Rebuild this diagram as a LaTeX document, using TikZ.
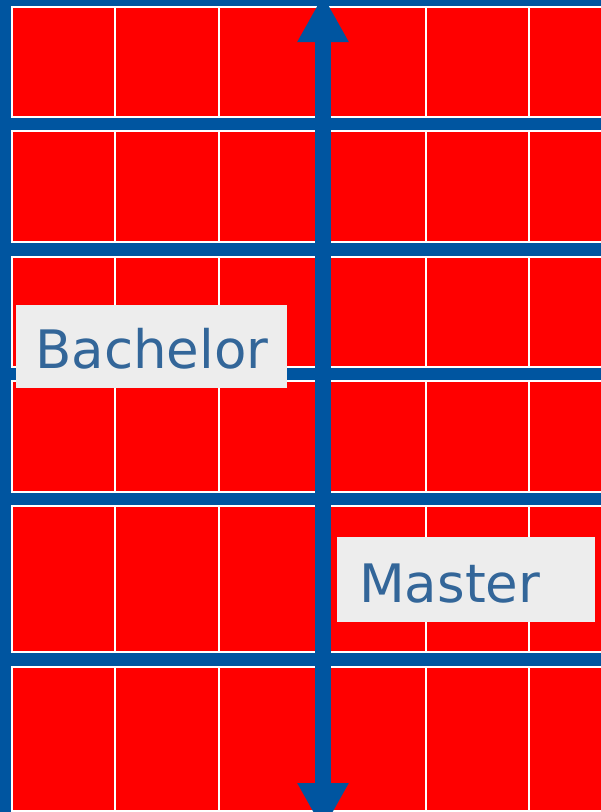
\documentclass[tikz,border=0pt]{standalone}
\usepackage{fontspec}
\setmainfont{DejaVu Sans}
\usetikzlibrary{arrows.meta}
\definecolor{bandblue}{RGB}{0,85,160}
\definecolor{cellred}{RGB}{255,0,0}
\definecolor{boxgray}{RGB}{237,237,237}
\definecolor{labelblue}{RGB}{51,102,153}
\tikzset{
  cell/.style={fill=cellred, draw=white, line width=2bp},
  labelbox/.style={fill=boxgray, text=labelblue, font=\fontsize{53bp}{60bp}\selectfont,
    align=left, inner ysep=0pt, text depth=0pt},
  bigarrow/.style={draw=bandblue, line width=16bp,
    {Triangle[width=48bp,length=47bp]}-{Triangle[width=48bp,length=47bp]}}
}
\begin{document}
\begin{tikzpicture}[x=1bp,y=-1bp]
\useasboundingbox (0,0) rectangle (601,812);
\clip (0,0) rectangle (601,812);
\fill[bandblue] (0,0) rectangle (601,812);
\foreach \top/\bot in {7/117, 131/242, 257/366.5, 381/492, 506/652, 667/811}{
  \foreach \i in {0,...,5}{
    \path[cell] ({12+103.4*\i},\top) rectangle ({12+103.4*(\i+1)},\bot);
  }
}
\coordinate (top) at (323,-5);
\coordinate (bottom) at (323,830);
\draw[bigarrow] (bottom) -- (top);
\node[labelbox, text width=233bp, inner xsep=19bp, text height=43bp, minimum height=83bp, anchor=north west]
  (bachelor) at (16,305) {Bachelor};
\node[labelbox, text width=214bp, inner xsep=22bp, text height=45bp, minimum height=85bp, anchor=north west]
  (master) at (337,537) {Master};
\end{tikzpicture}
\end{document}
